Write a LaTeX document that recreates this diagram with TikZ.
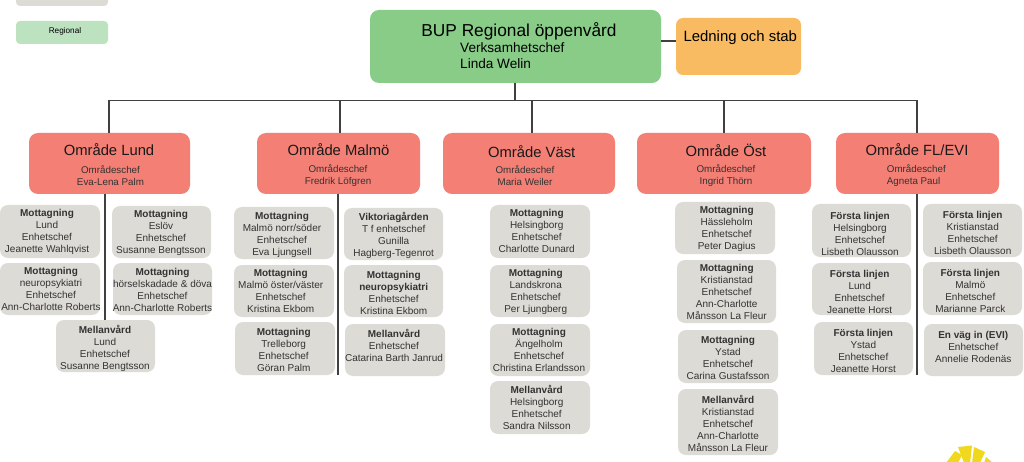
\documentclass[tikz,border=0pt]{standalone}
\usepackage{fontspec}
\setmainfont{Liberation Sans}
\definecolor{cgray}{HTML}{DDDBD6}
\definecolor{cred}{HTML}{F47F75}
\definecolor{cgreen}{HTML}{88CC88}
\definecolor{corange}{HTML}{F8BB62}
\definecolor{clegend}{HTML}{BCE2C0}
\definecolor{csun}{HTML}{EFD81E}
\definecolor{cline}{HTML}{404040}
\tikzset{
  x=1pt,y=-1pt,
  unit/.style={font=\fontsize{10}{12}\selectfont,text=black!80,align=center,inner sep=0pt,yshift=-1.1pt},
  areatitle/.style={font=\fontsize{14.8}{17}\selectfont,text=black!90,inner sep=0pt,yshift=0.6pt},
  areasub/.style={font=\fontsize{9.8}{12}\selectfont,text=black!80,inner sep=0pt},
  link/.style={draw=cline,line width=1.25pt},
}
% \unitbox{name}{x1}{y1}{x2}{y2}{text centre x}{text centre y}{text}
\newcommand{\unitbox}[8]{%
  \fill[cgray,rounded corners=8pt] (#2,#3) rectangle (#4,#5);
  \node[unit] (#1) at (#6,#7) {#8};
}
% \areabox{name}{x1}{x2}{title x}{title y}{sub x}{title}{sub}
\newcommand{\areabox}[8]{%
  \fill[cred,rounded corners=9pt] (#2,133) rectangle (#3,194);
  \node[areatitle] (#1t) at (#4,#5) {#7};
  \node[areasub,align=center] (#1s) at (#6,175.5) {#8};
}
\begin{document}
\begin{tikzpicture}
\useasboundingbox (0,0) rectangle (1024,462);
\fill[white] (0,0) rectangle (1024,462);
% sun
\begin{scope}
\clip (0,0) rectangle (1024,462);
\fill[csun] (946,463) -- (955,451) -- (962,455) -- (958,463) -- cycle;
\fill[csun] (958,447) -- (972,445.5) -- (970,463) -- (964,463) -- cycle;
\fill[csun] (974,447) -- (985,452) -- (980,463) -- (972,463) -- cycle;
\fill[csun] (986,457) -- (993,463) -- (984,463) -- cycle;
\end{scope}
% legend
\fill[cgray,rounded corners=4pt] (16,-6) rectangle (108,6);
\fill[clegend,rounded corners=4pt] (16,21) rectangle (108,44);
\node[font=\fontsize{8.2}{10}\selectfont,inner sep=0pt] (legend) at (65,31) {Regional};
% top
\fill[cgreen,rounded corners=9pt] (370,10) rectangle (661,83);
\node[font=\fontsize{17.3}{20}\selectfont,inner sep=0pt] (roott) at (519,31.5) {BUP Regional öppenvård};
\node[font=\fontsize{13.6}{16.5}\selectfont,align=left,inner sep=0pt,anchor=north west] (roots) at (460,42) {Verksamhetschef\\Linda Welin};
\fill[corange,rounded corners=7pt] (676,18) rectangle (801,75);
\node[font=\fontsize{14.9}{17}\selectfont,inner sep=0pt] (stabt) at (740.3,37.2) {Ledning och stab};
\areabox{lund}{29}{190}{109}{150.5}{110.5}{Område Lund}{Områdeschef\\Eva-Lena Palm}
\areabox{malmo}{257}{420}{338.5}{150.5}{338}{Område Malmö}{Områdeschef\\Fredrik Löfgren}
\areabox{vast}{443}{615}{531.7}{152.5}{525}{Område Väst}{Områdeschef\\Maria Weiler}
\areabox{ost}{637}{811}{726}{150.5}{726}{Område Öst}{Områdeschef\\Ingrid Thörn}
\fill[cred,rounded corners=9pt] (836,133) rectangle (999,194);
\node[areatitle] (flt) at (917,150.5) {Område FL/EVI};
\node[areasub,align=left,anchor=west] (fls) at (886.7,175.5) {Områdeschef\\Agneta Paul};
% connectors
\coordinate (bl) at (109,100.5);
\coordinate (br) at (917,100.5);
\coordinate (rootb) at (515,83);
\coordinate (rootr) at (661,41);
\coordinate (stabl) at (676,41);
\draw[link] (rootb) -- (515,100.5);
\draw[link] (rootr) -- (stabl);
\draw[link] (109,133) -- (bl) -- (br) -- (917,133);
\draw[link] (340,100.5) -- (340,133);
\draw[link] (532,100.5) -- (532,133);
\draw[link] (724,100.5) -- (724,133);
\draw[link] (105,194) -- (105,320);
\draw[link] (338,194) -- (338,375);
\draw[link] (917,194) -- (917,375);
% Lund
\unitbox{a1}{0}{205}{100}{258}{47}{230.5}{\textbf{Mottagning}\\Lund\\Enhetschef\\Jeanette Wahlqvist}
\unitbox{a2}{0}{263}{100}{315}{51}{288}{\textbf{Mottagning}\\neuropsykiatri\\Enhetschef\\Ann-Charlotte Roberts}
\unitbox{a3}{112}{206}{211}{258}{161}{231.5}{\textbf{Mottagning}\\Eslöv\\Enhetschef\\Susanne Bengtsson}
\unitbox{a4}{113}{263}{212}{315}{162.5}{289}{\textbf{Mottagning}\\hörselskadade \& döva\\Enhetschef\\Ann-Charlotte Roberts}
\unitbox{a5}{56}{320}{155}{372}{105}{347}{\textbf{Mellanvård}\\Lund\\Enhetschef\\Susanne Bengtsson}
% Malmo
\unitbox{b1}{234}{207}{334}{259}{282}{233.5}{\textbf{Mottagning}\\Malmö norr/söder\\Enhetschef\\Eva Ljungsell}
\unitbox{b2}{234}{265}{334}{317}{280.7}{289.7}{\textbf{Mottagning}\\Malmö öster/väster\\Enhetschef\\Kristina Ekbom}
\unitbox{b3}{235}{322}{335}{375}{283.7}{348.4}{\textbf{Mottagning}\\Trelleborg\\Enhetschef\\Göran Palm}
\unitbox{b4}{344}{208}{443}{260}{393.7}{234.3}{\textbf{Viktoriagården}\\T f enhetschef\\Gunilla\\Hagberg-Tegenrot}
\unitbox{b5}{344}{265}{443}{317}{393.7}{291.5}{\textbf{Mottagning}\\\textbf{neuropsykiatri}\\Enhetschef\\Kristina Ekbom}
\unitbox{b6}{345}{324}{445}{376}{394}{344.7}{\textbf{Mellanvård}\\Enhetschef\\Catarina Barth Janrud}
% Vast
\unitbox{c1}{490}{205}{590}{258}{536.7}{230.2}{\textbf{Mottagning}\\Helsingborg\\Enhetschef\\Charlotte Dunard}
\unitbox{c2}{490}{265}{590}{317}{535.7}{291.3}{\textbf{Mottagning}\\Landskrona\\Enhetschef\\Per Ljungberg}
\unitbox{c3}{490}{324}{590}{376}{539}{348.5}{\textbf{Mottagning}\\Ängelholm\\Enhetschef\\Christina Erlandsson}
\unitbox{c4}{490}{381}{590}{434}{536.7}{406}{\textbf{Mellanvård}\\Helsingborg\\Enhetschef\\Sandra Nilsson}
% Ost
\unitbox{d1}{675}{202}{775}{254}{726.7}{227.8}{\textbf{Mottagning}\\Hässleholm\\Enhetschef\\Peter Dagius}
\unitbox{d2}{677}{260}{776}{323}{726.7}{291.2}{\textbf{Mottagning}\\Kristianstad\\Enhetschef\\Ann-Charlotte\\Månsson La Fleur}
\unitbox{d3}{678}{330}{778}{383}{728}{356.8}{\textbf{Mottagning}\\Ystad\\Enhetschef\\Carina Gustafsson}
\unitbox{d4}{678}{389}{778}{455}{728}{422.8}{\textbf{Mellanvård}\\Kristianstad\\Enhetschef\\Ann-Charlotte\\Månsson La Fleur}
% FL
\unitbox{e1}{812}{204}{911}{257}{860}{233.2}{\textbf{Första linjen}\\Helsingborg\\Enhetschef\\Lisbeth Olausson}
\unitbox{e2}{812}{263}{911}{315}{859.7}{290.5}{\textbf{Första linjen}\\Lund\\Enhetschef\\Jeanette Horst}
\unitbox{e3}{814}{322}{913}{375}{863.3}{350.2}{\textbf{Första linjen}\\Ystad\\Enhetschef\\Jeanette Horst}
\unitbox{e4}{923}{204}{1022}{257}{972.7}{231.8}{\textbf{Första linjen}\\Kristianstad\\Enhetschef\\Lisbeth Olausson}
\unitbox{e5}{923}{262}{1022}{315}{970.3}{289.5}{\textbf{Första linjen}\\Malmö\\Enhetschef\\Marianne Parck}
\unitbox{e6}{924}{324}{1023}{376}{973.3}{346}{\textbf{En väg in (EVI)}\\Enhetschef\\Annelie Rodenäs}
\end{tikzpicture}
\end{document}
